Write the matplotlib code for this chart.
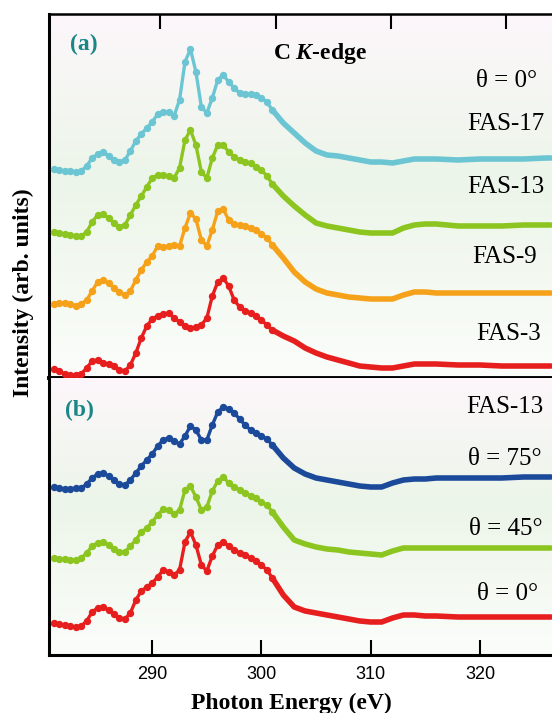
import numpy as np
import matplotlib.pyplot as plt
from matplotlib.colors import LinearSegmentedColormap

plt.rcParams['font.family'] = ['Liberation Serif', 'DejaVu Serif']
plt.rcParams['mathtext.fontset'] = 'custom'
plt.rcParams['mathtext.rm'] = 'Liberation Serif:bold'
plt.rcParams['mathtext.it'] = 'Liberation Serif:italic:bold'

# =====================
# data (arb. units, already offset)
# =====================
energy = np.array([
    281, 281.5, 282, 282.5, 283, 283.5, 284, 284.5, 285, 285.5,
    286, 286.5, 287, 287.5, 288, 288.5, 289, 289.5, 290, 290.5,
    291, 291.5, 292, 292.5, 293, 293.5, 294, 294.5, 295, 295.5,
    296, 296.5, 297, 297.5, 298, 298.5, 299, 299.5, 300, 300.5,
    301, 302, 303, 304, 305, 306, 307, 308, 309, 310,
    311, 312, 313, 314, 315, 316, 318, 320, 322, 324, 326, 326.5])

# panel (a): theta = 0 deg, different chain lengths
fas17 = [209, 208, 207, 207, 206, 207, 212, 220, 224, 226,
         222, 218, 216, 218, 227, 237, 244, 250, 256, 264,
         266, 266, 262, 278, 316, 329, 306, 271, 265, 280,
         298, 303, 296, 290, 285, 284, 284, 283, 280, 276,
         268, 255, 245, 235, 227, 223, 222, 220, 218, 216,
         216, 215, 217, 219, 219, 219, 218, 219, 219, 219, 220, 220]
fas13 = [146, 145, 144, 143, 142, 142, 146, 156, 163, 164,
         160, 155, 151, 153, 163, 173, 182, 191, 200, 203,
         203, 202, 200, 210, 238, 248, 233, 206, 200, 220,
         233, 233, 226, 221, 218, 216, 215, 211, 208, 202,
         194, 182, 172, 163, 155, 152, 150, 148, 146, 145,
         145, 145, 150, 153, 154, 154, 152, 152, 152, 153, 153, 153]
fas9 = [74, 75, 75, 74, 72, 74, 78, 87, 96, 98,
        95, 90, 86, 83, 87, 98, 108, 116, 122, 132,
        131, 132, 133, 132, 150, 165, 159, 138, 132, 148,
        167, 169, 158, 154, 153, 152, 150, 148, 144, 140,
        133, 120, 106, 96, 89, 85, 83, 81, 80, 79,
        79, 79, 83, 86, 86, 85, 85, 85, 85, 85, 85, 85]
fas3 = [9, 7, 4, 3, 3, 4, 10, 17, 18, 15,
        14, 12, 8, 7, 13, 25, 40, 52, 59, 62,
        64, 65, 60, 56, 52, 50, 51, 53, 60, 82,
        96, 100, 92, 78, 71, 67, 65, 62, 58, 53,
        48, 42, 37, 30, 25, 21, 18, 15, 12, 11,
        10, 10, 12, 14, 14, 14, 13, 13, 12, 12, 12, 12]

# panel (b): FAS-13, different angles
theta75 = [168, 167, 166, 166, 167, 167, 171, 177, 181, 182,
           179, 175, 171, 170, 175, 182, 189, 195, 201, 209,
           215, 217, 214, 211, 219, 229, 225, 215, 215, 230,
           243, 248, 246, 242, 236, 230, 225, 222, 219, 216,
           210, 197, 187, 181, 177, 175, 173, 171, 169, 168,
           168, 172, 175, 176, 176, 177, 177, 177, 177, 178, 178, 178]
theta45 = [97, 96, 96, 95, 95, 97, 102, 109, 112, 113,
           110, 106, 103, 103, 109, 115, 123, 127, 133, 140,
           146, 145, 141, 145, 165, 169, 158, 145, 148, 164,
           174, 178, 172, 168, 165, 162, 159, 157, 153, 150,
           143, 128, 115, 111, 108, 106, 105, 103, 102, 101,
           100, 104, 107, 107, 107, 107, 107, 107, 107, 107, 107, 107]
theta0 = [32, 31, 30, 29, 28, 29, 34, 43, 47, 48,
          45, 41, 37, 36, 42, 55, 64, 68, 72, 78,
          85, 83, 80, 85, 113, 123, 110, 90, 84, 99,
          110, 113, 109, 105, 102, 100, 97, 94, 90, 85,
          77, 60, 48, 44, 42, 40, 38, 36, 34, 33,
          33, 37, 40, 40, 39, 39, 38, 38, 38, 38, 38, 38]

series_a = [(fas17, '#6cc5d3'), (fas13, '#8cc520'), (fas9, '#f5a21a'), (fas3, '#e61e1e')]
series_b = [(theta75, '#1b4a9b'), (theta45, '#8cc520'), (theta0, '#e61e1e')]
labels_a = ['θ = 0°', 'FAS-17', 'FAS-13', 'FAS-9', 'FAS-3']
labels_b = ['FAS-13', 'θ = 75°', 'θ = 45°', 'θ = 0°']
bottom_ticks = [290, 300, 310, 320]
top_ticks = [290.7, 301.3, 311.9, 322.4]

# =====================
# figure
# =====================
W, H = 552, 713
fig = plt.figure(figsize=(W / 100, H / 100), dpi=100)
ax_a = fig.add_axes([49 / W, 1 - 378 / H, 1 - 49 / W, 364 / H])
ax_b = fig.add_axes([49 / W, 1 - 655 / H, 1 - 49 / W, 277 / H])

bg = LinearSegmentedColormap.from_list(
    'bg', [(0, '#fdf7fb'), (0.45, '#ecf5e9'), (1, '#fbfdfa')])
grad = np.linspace(0, 1, 256).reshape(-1, 1)

dense = energy <= 301
tail = energy >= 301

for ax, series in ((ax_a, series_a), (ax_b, series_b)):
    ax.imshow(grad, cmap=bg, extent=[0, 1, 0, 1], transform=ax.transAxes,
              aspect='auto', origin='upper', zorder=0)
    for vals, col in series:
        vals = np.array(vals)
        ax.plot(energy[dense], vals[dense], '-', color=col, lw=2.4,
                marker='o', ms=5.3, mec=col, mew=0, zorder=3)
        ax.plot(energy[tail], vals[tail], '-', color=col, lw=4.0,
                solid_capstyle='round', solid_joinstyle='round', zorder=3)
    ax.set_xlim(280.55, 326.6)
    ax.set_yticks([])
    ax.spines['right'].set_visible(False)
    ax.spines['left'].set_linewidth(2.2)

ax_a.set_ylim(0, 364)
ax_b.set_ylim(0, 277)

ax_a.set_xticks(top_ticks)
ax_a.tick_params(axis='x', bottom=False, top=True, direction='in', length=11,
                 width=1.5, labelbottom=False, labeltop=False)
ax_a.spines['top'].set_linewidth(1.8)
ax_a.spines['bottom'].set_linewidth(2.8)

ax_b.set_xticks(bottom_ticks)
ax_b.tick_params(axis='x', bottom=True, top=False, direction='in', length=11,
                 width=1.5, labelsize=13, pad=8, labelfontfamily='Liberation Sans')
ax_b.spines['top'].set_visible(False)
ax_b.spines['bottom'].set_linewidth(2.2)


def put(x, y, s, **kw):
    fig.text(x / W, 1 - y / H, s, **kw)


teal = '#1a8686'
put(84, 50, '(a)', color=teal, fontsize=17, fontweight='bold', ha='center', va='baseline')
put(79, 416, '(b)', color=teal, fontsize=17, fontweight='bold', ha='center', va='baseline')
put(320, 59, 'C $K$-edge', fontsize=17, fontweight='bold', ha='center', va='baseline')

for (x, y), s in zip([(507, 87), (506, 130), (506, 193), (505, 263), (509, 340)], labels_a):
    put(x, y, s, fontsize=18, ha='center', va='baseline')
for (x, y), s in zip([(505, 413), (505, 465), (506, 535), (508, 600)], labels_b):
    put(x, y, s, fontsize=18, ha='center', va='baseline')

put(291, 703, 'Photon Energy (eV)', fontsize=17, fontweight='bold', ha='center', va='center')
put(23, 293, 'Intensity (arb. units)', fontsize=17, fontweight='bold',
    ha='center', va='center', rotation=90)

fig.savefig('out.png', dpi=100)
